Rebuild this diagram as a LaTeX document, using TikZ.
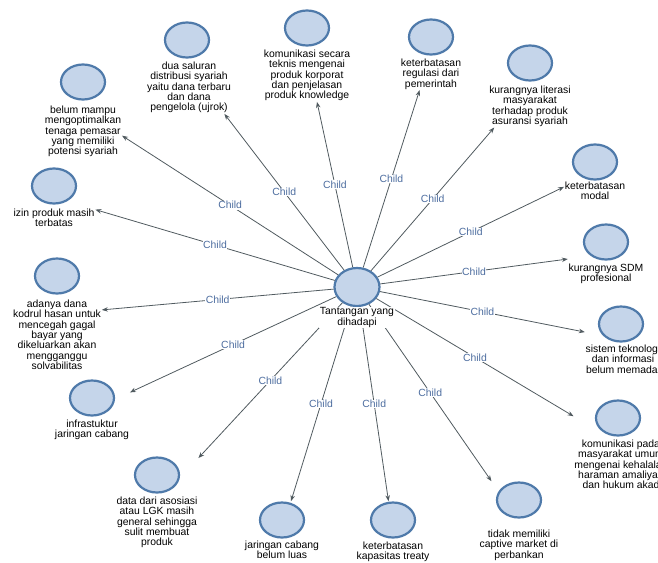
\documentclass[tikz,border=0pt]{standalone}
\usepackage{fontspec}
\setmainfont{Liberation Sans}
\usetikzlibrary{fit,arrows.meta,shapes.geometric}
\definecolor{cfill}{RGB}{197,213,234}
\definecolor{cedge}{RGB}{79,122,170}
\definecolor{cline}{RGB}{80,90,95}
\definecolor{clab}{RGB}{78,110,160}
\begin{document}
\begin{tikzpicture}[x=1pt,y=-1pt,
  bub/.style={ellipse,draw=cedge,fill=cfill,line width=2.2pt,minimum width=44pt,minimum height=35pt,inner sep=0pt},
  txt/.style={anchor=north,align=center,font=\fontsize{10.4}{10.4}\selectfont,inner sep=0.5pt},
  grp/.style={inner sep=0pt},
  arr/.style={draw=cline,line width=0.8pt,-{Stealth[length=6pt,width=4.5pt]}},
  lab/.style={midway,fill=white,inner sep=0.5pt,text=clab,font=\fontsize{10.4}{10.4}\selectfont}]
\useasboundingbox (0,0) rectangle (658,562);
\clip (0,0) rectangle (658,562);
% centre
\node[bub,minimum width=45pt,minimum height=38pt] (c) at (357,287) {};
% children
\node[bub] (b1) at (83,82) {};
\node[txt] (t1) at (83,105) {belum mampu\\mengoptimalkan\\tenaga pemasar\\yang memiliki\\potensi syariah};
\node[bub] (b2) at (187,40) {};
\node[txt] (t2) at (189,61) {dua saluran\\distribusi syariah\\yaitu dana terbaru\\dan dana\\pengelola (ujrok)};
\node[bub] (b3) at (307,28) {};
\node[txt] (t3) at (307,49) {komunikasi secara\\teknis mengenai\\produk korporat\\dan penjelasan\\produk knowledge};
\node[bub] (b4) at (431,37) {};
\node[txt] (t4) at (431,58) {keterbatasan\\regulasi dari\\pemerintah};
\node[bub] (b5) at (530,63) {};
\node[txt] (t5) at (530,85) {kurangnya literasi\\masyarakat\\terhadap produk\\asuransi syariah};
\node[bub] (b6) at (595,162) {};
\node[txt] (t6) at (595,181) {keterbatasan\\modal};
\node[bub] (b7) at (606,242) {};
\node[txt] (t7) at (606,263) {kurangnya SDM\\profesional};
\node[bub] (b8) at (621,324) {};
\node[txt] (t8) at (623,344) {sistem teknologi\\dan informasi\\belum memadai};
\node[bub] (b9) at (618,418) {};
\node[txt] (t9) at (621,439) {komunikasi pada\\masyarakat umum\\mengenai kehalalan\\haraman amaliyah\\dan hukum akad};
\node[bub] (b10) at (519,500) {};
\node[txt] (t10) at (519,529) {tidak memiliki\\captive market di\\perbankan};
\node[bub] (b11) at (393,520) {};
\node[txt] (t11) at (393,541) {keterbatasan\\kapasitas treaty};
\node[bub] (b12) at (282,520) {};
\node[txt] (t12) at (282,540) {jaringan cabang\\belum luas};
\node[bub] (b13) at (157,475) {};
\node[txt] (t13) at (157,496) {data dari asosiasi\\atau LGK masih\\general sehingga\\sulit membuat\\produk};
\node[bub] (b14) at (92,398) {};
\node[txt] (t14) at (92,419) {infrastuktur\\jaringan cabang};
\node[bub] (b15) at (57,276) {};
\node[txt] (t15) at (57,299) {adanya dana\\kodrul hasan untuk\\mencegah gagal\\bayar yang\\dikeluarkan akan\\mengganggu\\solvabilitas};
\node[bub] (b16) at (54,186) {};
\node[txt] (t16) at (54,208) {izin produk masih\\terbatas};
% groups
\foreach \i in {1,...,16} {\node[grp,fit=(b\i)(t\i)] (g\i) {};}
% edges
\foreach \i in {1,...,16} {\draw[arr] (c) -- (g\i) node[lab] {Child};}
% centre label on top
\node[txt,fill=white] (ct) at (357,307) {Tantangan yang\\dihadapi};
\end{tikzpicture}
\end{document}
